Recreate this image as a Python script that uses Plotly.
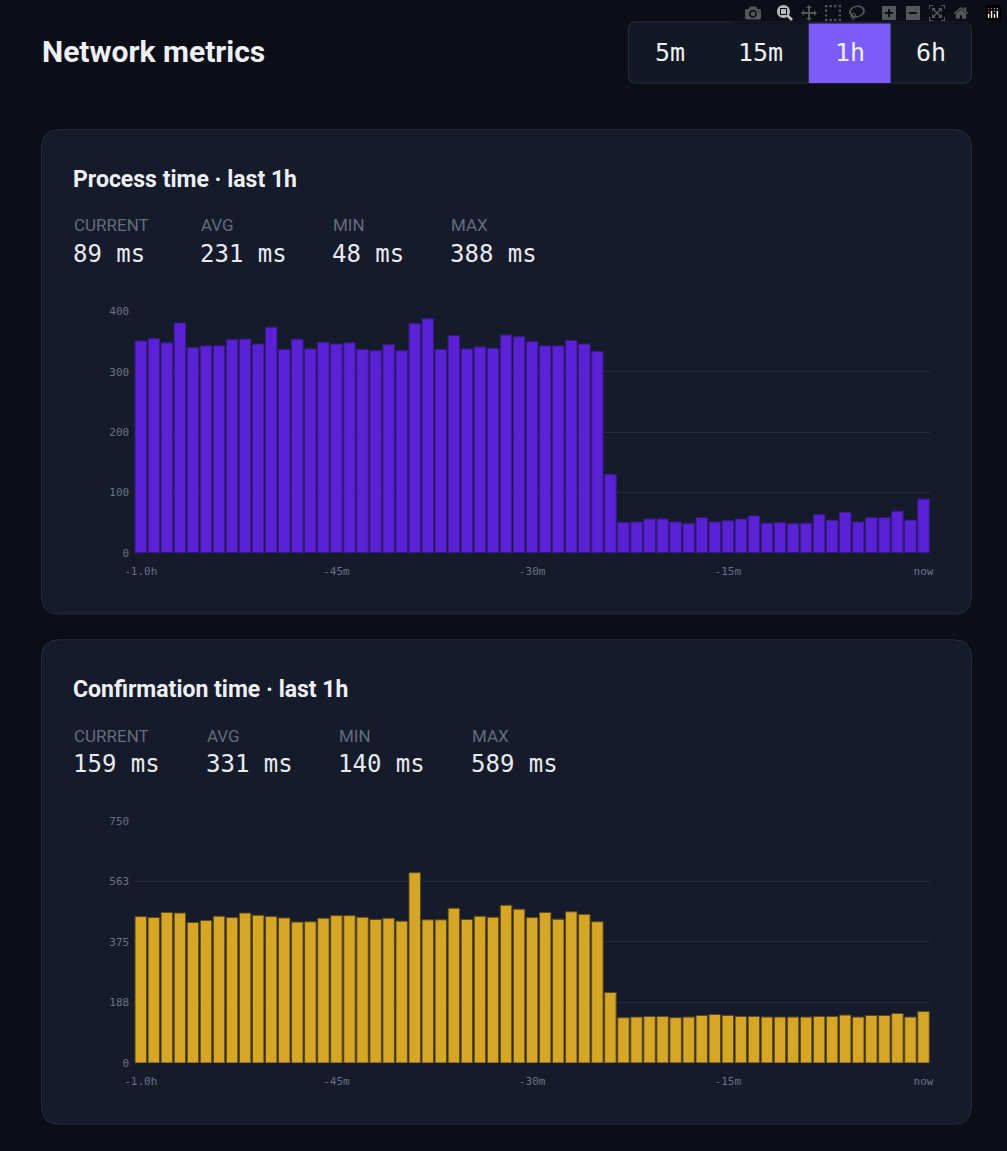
import plotly.graph_objects as go

W, H = 1007, 1151

x_idx = list(range(61))
tick_pos = [0, 15, 30, 45, 60]
tick_text = ['-1.0h', '-45m', '-30m', '-15m', 'now']

process_ms = [351, 355, 348, 381, 340, 343, 343, 353, 354, 346, 374, 337, 354, 338, 349, 346,
              348, 337, 335, 345, 335, 380, 388, 337, 360, 338, 341, 339, 361, 358, 350, 343,
              343, 352, 346, 334, 130, 50, 51, 56, 56, 51, 48, 58, 51, 53, 56, 61, 49, 50,
              48, 49, 63, 54, 67, 51, 58, 58, 69, 54, 89]
confirm_ms = [453, 450, 466, 464, 435, 441, 454, 450, 464, 457, 453, 449, 436, 437, 448, 456,
              456, 451, 444, 448, 439, 589, 443, 443, 479, 444, 454, 451, 488, 476, 450, 466,
              445, 468, 460, 437, 218, 140, 142, 144, 144, 140, 142, 147, 150, 147, 144, 144,
              142, 142, 142, 142, 144, 144, 148, 142, 147, 147, 153, 142, 159]

stat_names = ['CURRENT', 'AVG', 'MIN', 'MAX']
process_stats = ['89 ms', '231 ms', '48 ms', '388 ms']
confirm_stats = ['159 ms', '331 ms', '140 ms', '589 ms']
ranges = ['5m', '15m', '1h', '6h']


def px_x(x):
    return x / W


def px_y(y):
    return 1 - y / H


def rounded(x0, y0, x1, y1, r):
    X0, X1 = px_x(x0), px_x(x1)
    Y0, Y1 = px_y(y0), px_y(y1)
    rx, ry = r / W, r / H
    return (f'M{X0+rx},{Y0} L{X1-rx},{Y0} Q{X1},{Y0} {X1},{Y0-ry} '
            f'L{X1},{Y1+ry} Q{X1},{Y1} {X1-rx},{Y1} L{X0+rx},{Y1} '
            f'Q{X0},{Y1} {X0},{Y1+ry} L{X0},{Y0-ry} Q{X0},{Y0} {X0+rx},{Y0} Z')


fig = go.Figure()
fig.add_trace(go.Bar(x=x_idx, y=process_ms, xaxis='x', yaxis='y',
                     marker=dict(color='#5a22d4', line=dict(color='#3a1a8c', width=1))))
fig.add_trace(go.Bar(x=x_idx, y=confirm_ms, xaxis='x2', yaxis='y2',
                     marker=dict(color='#d6a627', line=dict(color='#5e4a16', width=1))))

axis_font = dict(family='DejaVu Sans Mono', size=11, color='#6b7385')
xcommon = dict(range=[-0.5, 60.5], tickvals=tick_pos, ticktext=tick_text, showgrid=False,
               zeroline=False, showline=False, tickfont=axis_font, ticks='',
               ticklabelstandoff=10)
ycommon = dict(showgrid=True, gridcolor='#242b3c', gridwidth=1, zeroline=False,
               showline=False, tickfont=axis_font, ticks='', ticklabelstandoff=4)

fig.update_layout(
    width=W, height=H, margin=dict(l=0, r=0, t=0, b=0),
    paper_bgcolor='#0b0e17', plot_bgcolor='rgba(0,0,0,0)',
    showlegend=False, bargap=0.12,
    xaxis=dict(domain=[px_x(126), px_x(933)], anchor='y', **xcommon),
    yaxis=dict(domain=[px_y(553), px_y(309)], anchor='x', range=[0, 400],
               tickvals=[0, 100, 200, 300, 400], **ycommon),
    xaxis2=dict(domain=[px_x(126), px_x(933)], anchor='y2', **xcommon),
    yaxis2=dict(domain=[px_y(1069), px_y(824)], anchor='x2', range=[0, 750],
                tickvals=[0, 187.5, 375, 562.5, 750], ticktext=['0', '188', '375', '563', '750'],
                **ycommon),
)

shapes = [
    dict(type='path', path=rounded(32, 125, 975, 615, 18), xref='paper', yref='paper',
         fillcolor='#151b2a', line=dict(color='#252c3c', width=1), layer='below'),
    dict(type='path', path=rounded(32, 641, 975, 1131, 18), xref='paper', yref='paper',
         fillcolor='#151b2a', line=dict(color='#252c3c', width=1), layer='below'),
    dict(type='path', path=rounded(627, 16, 975, 78, 8), xref='paper', yref='paper',
         fillcolor='#131825', line=dict(color='#262d3c', width=1), layer='below'),
    dict(type='rect', x0=px_x(810), x1=px_x(893), y0=px_y(78), y1=px_y(17), xref='paper',
         yref='paper', fillcolor='#7b5cfb', line=dict(width=0), layer='below'),
]
fig.update_layout(shapes=shapes)

ann = []


def text(x, y, s, size, color, family='Roboto', anchor='left'):
    ann.append(dict(x=px_x(x), y=px_y(y), xref='paper', yref='paper', text=s, showarrow=False,
                    xanchor=anchor, yanchor='middle', font=dict(family=family, size=size, color=color)))


text(30, 46, '<b>Network metrics</b>', 30, '#eef0f6')
for label, cx in zip(ranges, [669, 761, 852, 934]):
    text(cx, 47, label, 25, '#eef0f6', 'DejaVu Sans Mono', 'center')

cards = [
    (175, 'Process time · last 1h', [63, 192, 326, 445], process_stats),
    (691, 'Confirmation time · last 1h', [63, 198, 332, 466], confirm_stats),
]
for ty, title, xs, vals in cards:
    text(62, ty, '<b>' + title + '</b>', 23, '#eef0f6')
    for name, val, sx in zip(stat_names, vals, xs):
        text(sx, ty + 47, name, 17, '#646c7e')
        text(sx - 1, ty + 76, val, 24, '#e8eaf0', 'DejaVu Sans Mono')

fig.update_layout(annotations=ann)
fig.write_html('out.html',
               post_script="document.body.style.margin='0';"
                           "document.body.style.background='#0b0e17';"
                           "document.body.style.overflow='hidden';")
